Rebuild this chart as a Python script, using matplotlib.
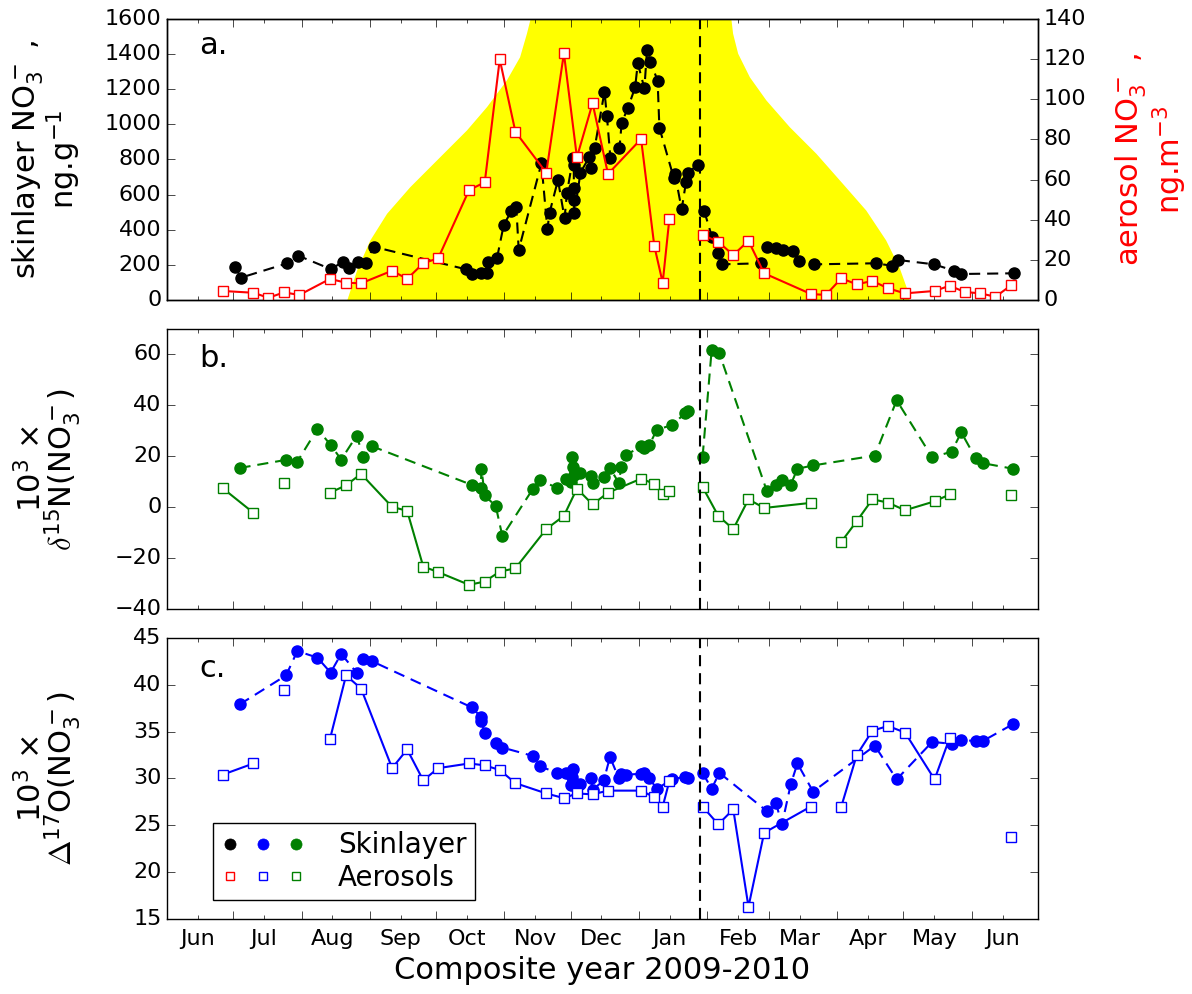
import datetime as dt
import numpy as np
import matplotlib
matplotlib.use("Agg")
import matplotlib.pyplot as plt
import matplotlib.dates as mdates
from matplotlib.lines import Line2D
from matplotlib.legend_handler import HandlerTuple
from matplotlib.ticker import MultipleLocator, NullFormatter

plt.style.use("classic")
plt.rcParams["font.family"] = ["DejaVu Sans"]
plt.rcParams["mathtext.default"] = "regular"
plt.rcParams["figure.facecolor"] = "white"
plt.rcParams["savefig.facecolor"] = "white"
plt.rcParams["lines.scale_dashes"] = False

# ---------------- data (days since 2009-06-01) ----------------
START = dt.datetime(2009, 6, 1)
END = dt.datetime(2010, 7, 1)
composite_split_day = 241.6

# panel a: skinlayer nitrate concentration (ng/g)
conc_days = [30.9, 33.5, 54.6, 59.6, 74.4, 79.7, 82.5, 86.7, 90.1, 93.7,
             135.5, 138.5, 142.6, 144.9, 145.6, 149.7, 152.7, 156.2, 158.4, 159.5,
             169.8, 172.5, 173.5, 177.3, 180.3, 181.4, 184.1, 184.5, 184.5, 184.5,
             184.8, 187.5, 191.6, 192.5, 193.9, 198.4, 199.5, 201.1, 205.2, 206.2,
             209.0, 212.3, 213.5, 216.5, 217.7, 219.2, 222.5, 223.3, 229.8, 230.4,
             233.4, 235.4, 236.4, 240.6,
             243.6, 247.2, 250.0, 251.5, 269.4, 272.3, 276.4, 279.4, 283.7, 286.7,
             293.5, 321.4, 328.7, 331.5, 347.8, 356.9, 360.3, 384.0]
conc_skin = [190, 127, 209, 252, 175, 218, 184, 218, 209, 303,
             175, 148, 152, 155, 218, 241, 427, 507, 531, 285,
             778, 403, 497, 683, 465, 611, 807, 769, 636, 569,
             494, 725, 816, 750, 863, 1186, 1048, 807, 864, 1010,
             1092, 1211, 1348, 1205, 1424, 1357, 1249, 981, 696, 716,
             516, 674, 725, 769,
             508, 357, 266, 203, 209, 300, 294, 285, 279, 224,
             203, 209, 195, 228, 203, 167, 148, 152]

# aerosol sampling (weekly)
aer_days = [25.2, 39.2, 46.0, 53.1, 60.0, 73.9, 81.2, 88.0, 102.1, 108.9,
            116.2, 123.0, 137.0, 144.1, 150.9, 158.0, 172.0, 180.0, 185.9, 193.0,
            200.0, 215.0, 221.0, 224.8, 227.8, 242.9, 250.0, 256.8, 263.7, 270.8,
            292.0, 298.8, 305.8, 312.8, 319.9, 327.0, 334.7, 348.1, 354.9, 361.8,
            368.9, 375.7, 382.8]
nan = np.nan
aer_conc = [4.5, 3.6, 1.1, 3.8, 2.5, 10.5, 8.6, 8.3, 14.6, 10.5,
            18.3, 20.8, 54.8, 58.6, 119.9, 83.8, 63.4, 122.9, 71.1, 98.0,
            62.8, 80.2, 26.9, 8.6, 40.2, 32.4, 29.0, 22.4, 29.5, 13.3,
            3.0, 2.5, 10.8, 7.8, 9.5, 5.8, 3.3, 4.5, 7.1, 4.0,
            3.3, 1.6, 7.3]
aer_d15N = [7.5, -2.2, nan, 9.6, nan, 5.7, 8.6, 13.1, 0.1, -1.4,
            -23.3, -25.5, -30.5, -29.2, -25.3, -24.0, -8.6, -3.4, 7.3, 1.1,
            5.7, 11.2, 9.2, 5.0, 6.4, 7.9, -3.4, -8.6, 3.1, -0.3,
            1.7, nan, -13.6, -5.5, 3.1, 1.8, -1.2, 2.3, 5.0, nan,
            nan, nan, 4.9]
aer_D17O = [30.4, 31.6, nan, 39.4, nan, 34.2, 41.0, 39.6, 31.1, 33.1,
            29.8, 31.1, 31.6, 31.4, 30.9, 29.5, 28.4, 27.9, 28.4, 28.3,
            28.7, 28.7, 28.0, 27.0, 29.7, 27.0, 25.1, 26.7, 16.3, 24.2,
            27.0, nan, 27.0, 32.5, 35.1, 35.6, 34.9, 29.9, 34.3, nan,
            nan, nan, 23.8]

# skinlayer isotopes
iso_days = [32.9, 54.0, 59.1, 68.2, 74.2, 79.0, 86.0, 89.0, 93.1, 138.1,
            142.3, 142.6, 144.1, 149.1, 152.1, 166.0, 169.0, 177.0, 180.9, 183.3,
            183.8, 184.1, 184.4, 187.1, 192.3, 193.1, 198.1, 200.9, 204.9, 206.0,
            208.2, 215.0, 216.2, 218.8, 222.1, 229.1, 235.1, 236.1,
            242.9, 247.0, 250.5, 272.1, 276.1, 278.9, 282.9, 285.9, 293.0, 321.0,
            330.9, 347.0, 355.8, 360.2, 366.7, 370.0, 383.7]
skin_d15N = [15.4, 18.6, 17.9, 30.7, 24.5, 18.7, 28.1, 19.9, 23.9, 8.8,
             7.5, 15.1, 4.6, 0.4, -11.4, 7.3, 10.8, 7.5, 11.2, 9.9,
             19.6, 15.7, 12.5, 13.4, 12.2, 9.5, 11.8, 15.4, 9.5, 15.7,
             20.5, 23.9, 23.2, 24.5, 30.4, 32.3, 37.0, 37.6,
             19.9, 61.7, 60.4, 6.2, 8.8, 10.5, 8.9, 15.1, 16.4, 20.3,
             42.0, 19.6, 21.8, 29.4, 19.3, 17.3, 15.1]
skin_D17O = [37.9, 41.0, 43.6, 42.9, 41.3, 43.3, 41.3, 42.7, 42.5, 37.6,
             36.6, 36.1, 34.8, 33.8, 33.3, 32.4, 31.3, 30.6, 30.6, 29.3,
             30.2, 31.0, 29.5, 29.4, 30.0, 28.8, 29.8, 32.3, 30.0, 30.5,
             30.4, 30.5, 30.6, 30.0, 28.9, 29.9, 30.2, 30.0,
             30.6, 28.9, 30.6, 26.5, 27.4, 25.1, 29.4, 31.6, 28.6, 33.5,
             29.9, 33.9, 33.7, 34.1, 34.0, 34.0, 35.8]

# sunlit-period envelope (yellow), in panel-a left-axis units
sun_days = [81.5, 86.0, 92.0, 99.6, 110.1, 123.7, 135.8, 144.9, 153.9, 159.9,
            163.0, 164.5, 175.0, 210.0, 245.0, 255.8, 256.5, 258.8, 264.1, 271.6,
            282.2, 294.3, 306.3, 316.9, 325.9, 331.9, 335.7, 336.5]
sun_vals = [0, 171, 342, 494, 645, 816, 968, 1101, 1253, 1385,
            1519, 1594, 2000, 2300, 2000, 1594, 1519, 1405, 1271, 1139,
            987, 835, 664, 512, 342, 190, 57, 0]

# ---------------- plotting ----------------
BASE = mdates.date2num(START)


def tonum(days):
    return BASE + np.asarray(days, dtype=float)


SPLIT = BASE + composite_split_day
DASH = (8, 5)


def plot_split(ax, days, vals, color, dashed, marker, ms, mfc, mec):
    x = tonum(days)
    y = np.asarray(vals, dtype=float)
    for m in (x < SPLIT, x >= SPLIT):
        kw = dict(color=color, lw=1.5, marker=marker, ms=ms, mfc=mfc, mec=mec,
                  mew=1.0)
        if dashed:
            kw["ls"] = "--"
            kw["dashes"] = DASH
        else:
            kw["ls"] = "-"
        ax.plot(x[m], y[m], **kw)


fig = plt.figure(figsize=(11.92, 9.94), dpi=100)
L, W = 0.1401, 0.7307
axa = fig.add_axes([L, 0.6982, W, 0.2827])
axb = fig.add_axes([L, 0.3873, W, 0.2817], sharex=axa)
axc = fig.add_axes([L, 0.0755, W, 0.2827], sharex=axa)
axr = axa.twinx()

# panel a
axa.fill_between(tonum(sun_days), 0, sun_vals, color="#ffff00", lw=0, zorder=0)
plot_split(axa, conc_days, conc_skin, "k", True, "o", 8, "k", "k")
plot_split(axr, aer_days, aer_conc, "r", False, "s", 7, "w", "r")
axa.set_ylim(0, 1600)
axa.yaxis.set_major_locator(MultipleLocator(200))
axr.set_ylim(0, 140)
axr.yaxis.set_major_locator(MultipleLocator(20))
axa.set_ylabel("skinlayer NO$_3^-$ ,\nng.g$^{-1}$", fontsize=22, linespacing=0.95)
axr.set_ylabel("aerosol NO$_3^-$ ,\nng.m$^{-3}$", fontsize=22, color="r",
               linespacing=1.05)

# panel b
plot_split(axb, iso_days, skin_d15N, "g", True, "o", 8, "g", "g")
plot_split(axb, aer_days, aer_d15N, "g", False, "s", 7, "w", "g")
axb.set_ylim(-40, 70)
axb.yaxis.set_major_locator(MultipleLocator(20))
axb.set_ylabel("10$^3$ $\\times$\n$\\mathit{\\delta}^{15}$N(NO$_3^-$)",
               fontsize=22, linespacing=0.8)

# panel c
plot_split(axc, iso_days, skin_D17O, "b", True, "o", 8, "b", "b")
plot_split(axc, aer_days, aer_D17O, "b", False, "s", 7, "w", "b")
axc.set_ylim(15, 45)
axc.yaxis.set_major_locator(MultipleLocator(5))
axc.set_ylabel("10$^3$ $\\times$\n$\\mathit{\\Delta}^{17}$O(NO$_3^-$)",
               fontsize=22, linespacing=0.8)
axc.set_xlabel("Composite year 2009-2010", fontsize=22)

for ax in (axa, axb, axc):
    ax.yaxis.set_label_coords(-0.097, 0.5)
axr.yaxis.set_label_coords(1.087, 0.5)

for ax, lab, yy in ((axa, "a.", 0.905), (axb, "b.", 0.895), (axc, "c.", 0.893)):
    ax.axvline(SPLIT, color="k", ls="--", dashes=DASH, lw=1.5)
    ax.text(0.037, yy, lab, transform=ax.transAxes, fontsize=22, va="center")

axa.set_xlim(mdates.date2num(START), mdates.date2num(END))
axc.xaxis.set_major_locator(mdates.MonthLocator())
axc.xaxis.set_major_formatter(NullFormatter())
axc.xaxis.set_minor_locator(mdates.MonthLocator(bymonthday=15))
axc.xaxis.set_minor_formatter(mdates.DateFormatter("%b"))

for ax in (axa, axb, axc, axr):
    ax.tick_params(which="major", direction="in", length=6, labelsize=16)
    ax.tick_params(which="minor", direction="in", length=3, labelsize=16)
axa.tick_params(which="both", labelbottom=False)
axb.tick_params(which="both", labelbottom=False)
axc.tick_params(axis="x", which="minor", pad=7)

# legend
h_skin = tuple(Line2D([], [], ls="none", marker="o", ms=8, color=c, mec=c)
               for c in ("k", "b", "g"))
h_aer = tuple(Line2D([], [], ls="none", marker="s", ms=6, color=c, mfc="w",
                     mec=c, mew=1.0)
              for c in ("r", "b", "g"))
axc.legend([h_skin, h_aer], ["Skinlayer", "Aerosols"],
           handler_map={tuple: HandlerTuple(ndivide=None, pad=0.6)},
           loc="lower left", bbox_to_anchor=(0.053, 0.068), borderaxespad=0,
           fontsize=20, handlelength=3.0, handletextpad=1.2, numpoints=1,
           frameon=True, fancybox=False, borderpad=0.3, labelspacing=0.15)

fig.savefig("out.png", dpi=100)
